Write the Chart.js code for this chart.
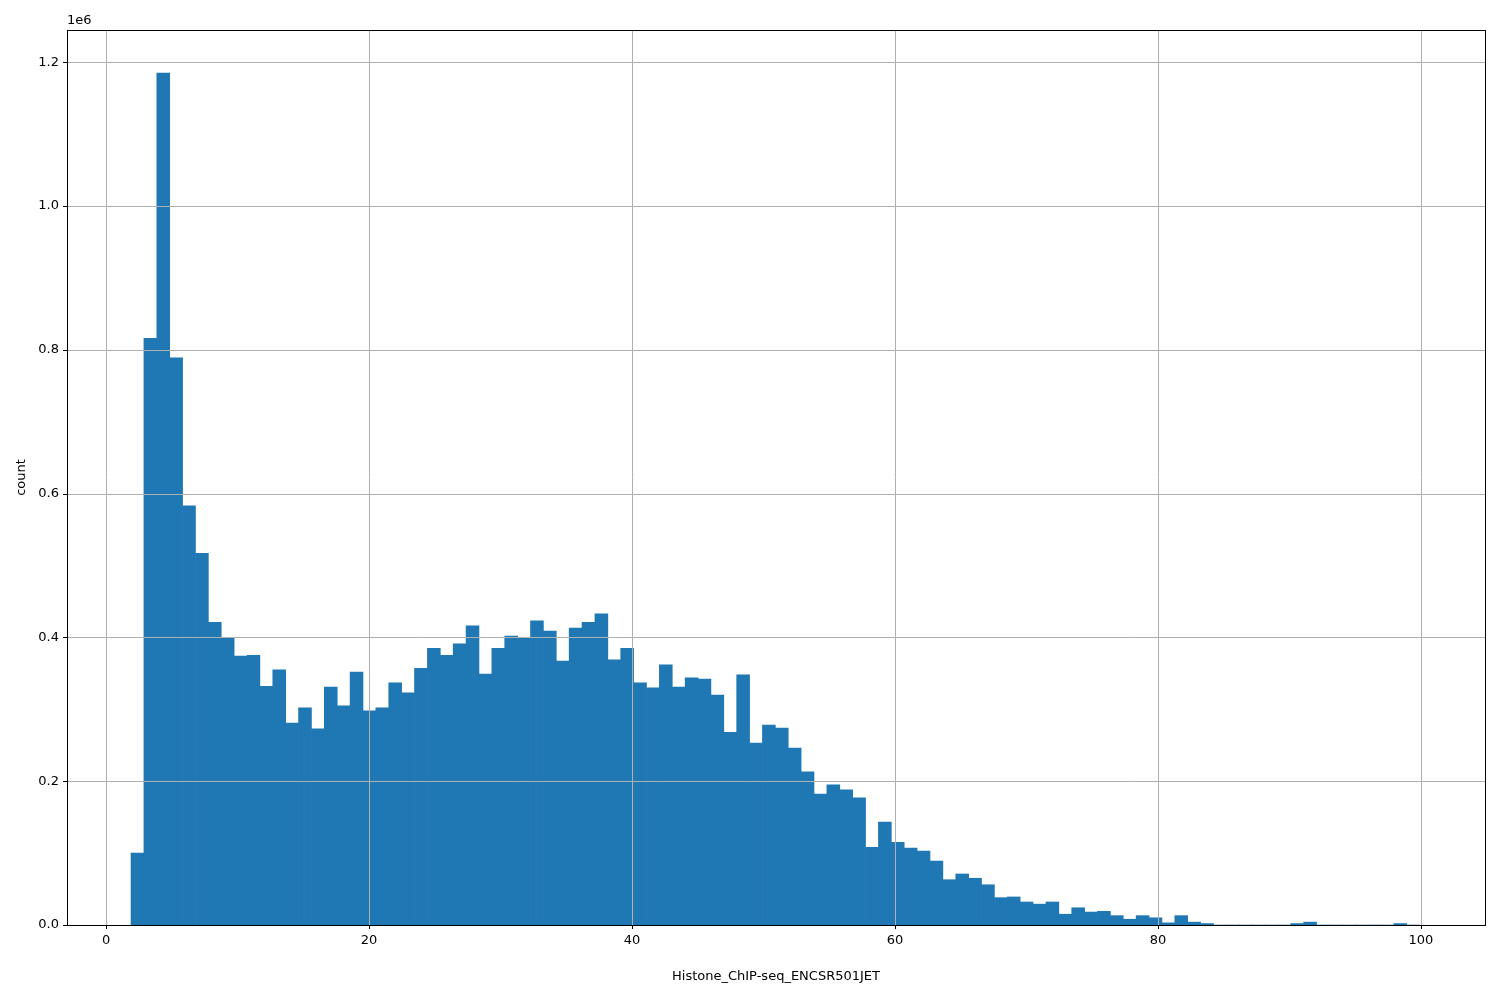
<!DOCTYPE html>
<html><head><meta charset="utf-8">
<script src="https://cdn.jsdelivr.net/npm/chart.js@4/dist/chart.umd.min.js"></script>
<style>html,body{margin:0;padding:0;background:#fff}#w{width:1500px;height:1000px}</style>
</head><body><div id="w"><canvas id="c"></canvas></div>
<script>
const binStart = 1.9;
const binWidth = 0.98;
const countsMillions = [0.100,0.816,1.185,0.789,0.583,0.517,0.421,0.399,0.374,0.375,
0.332,0.355,0.281,0.302,0.273,0.331,0.305,0.352,0.298,0.302,
0.337,0.323,0.357,0.385,0.375,0.391,0.416,0.349,0.385,0.402,
0.399,0.423,0.409,0.367,0.413,0.421,0.433,0.369,0.385,0.337,
0.330,0.362,0.331,0.344,0.342,0.320,0.268,0.348,0.253,0.278,
0.274,0.246,0.213,0.182,0.195,0.188,0.177,0.108,0.143,0.115,
0.107,0.103,0.089,0.063,0.071,0.065,0.056,0.038,0.039,0.032,
0.029,0.032,0.015,0.024,0.018,0.019,0.013,0.008,0.013,0.010,
0.003,0.013,0.004,0.002,0,0,0,0,0,0,
0.002,0.004,0,0,0,0,0,0,0.002,0];
const xTicks = [0,20,40,60,80,100];
const yTicks = [0,0.2e6,0.4e6,0.6e6,0.8e6,1.0e6,1.2e6];
const xLabel = "Histone_ChIP-seq_ENCSR501JET";
const yLabel = "count";

const data = countsMillions.map((v,i)=>({x: binStart + binWidth*(i+0.5), y: v*1e6}));
const FONT = "DejaVu Sans";
Chart.defaults.font.family = FONT;
Chart.defaults.font.size = 13;
Chart.defaults.color = "#000";

const overlay = {
  id:'overlay',
  afterDatasetsDraw(ch){
    const {ctx, chartArea:a, scales:{x,y}} = ch;
    ctx.save();
    ctx.strokeStyle = '#b0b0b0'; ctx.lineWidth = 1;
    xTicks.forEach(t=>{const p=Math.round(x.getPixelForValue(t))+0.5;ctx.beginPath();ctx.moveTo(p,a.top);ctx.lineTo(p,a.bottom);ctx.stroke();});
    yTicks.forEach(t=>{const p=Math.round(y.getPixelForValue(t))+0.5;ctx.beginPath();ctx.moveTo(a.left,p);ctx.lineTo(a.right,p);ctx.stroke();});
    ctx.strokeStyle='#000';
    xTicks.forEach(t=>{const p=Math.round(x.getPixelForValue(t))+0.5;ctx.beginPath();ctx.moveTo(p,a.bottom);ctx.lineTo(p,a.bottom+4);ctx.stroke();});
    yTicks.forEach(t=>{const p=Math.round(y.getPixelForValue(t))+0.5;ctx.beginPath();ctx.moveTo(a.left-4,p);ctx.lineTo(a.left,p);ctx.stroke();});
    ctx.strokeRect(Math.round(a.left)+0.5, Math.round(a.top)+0.5, Math.round(a.right-a.left), Math.round(a.bottom-a.top));
    ctx.fillStyle='#000'; ctx.font='13px '+FONT; ctx.textAlign='left'; ctx.textBaseline='bottom';
    ctx.fillText('1e6', a.left, a.top-3);
    ctx.restore();
  }
};

new Chart(document.getElementById('c'), {
  type:'bar',
  data:{datasets:[{data, backgroundColor:'#1f77b4', borderWidth:0, barPercentage:1, categoryPercentage:1}]},
  options:{
    responsive:true, maintainAspectRatio:false, animation:false,
    layout:{padding:{top:30,right:15,left:0,bottom:0}},
    plugins:{legend:{display:false}, tooltip:{enabled:false}},
    scales:{
      x:{type:'linear', min:-2.97, max:104.87, offset:false,
        grid:{display:false, drawTicks:false}, border:{display:false},
        afterBuildTicks(s){s.ticks = xTicks.map(v=>({value:v}));},
        afterFit(s){s.height=75;},
        ticks:{padding:8, callback:v=>String(v)},
        title:{display:true, text:xLabel, padding:{top:0,bottom:16}}},
      y:{min:0, max:1.245e6,
        grid:{display:false, drawTicks:false}, border:{display:false},
        afterBuildTicks(s){s.ticks = yTicks.map(v=>({value:v}));},
        afterFit(s){s.width=67;},
        ticks:{padding:8, callback:v=>(v/1e6).toFixed(1)},
        title:{display:true, text:yLabel, padding:{top:14,bottom:0}}}
    }
  },
  plugins:[overlay]
});
</script></body></html>
